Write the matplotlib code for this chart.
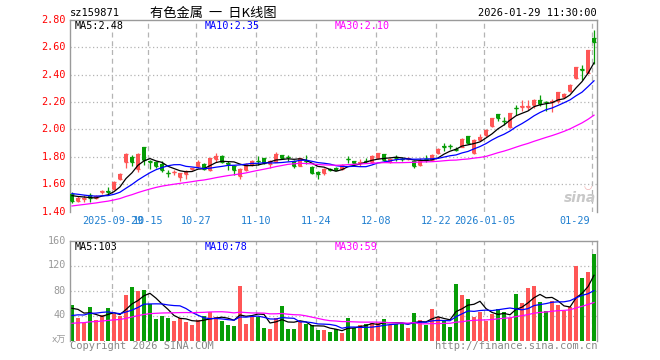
import matplotlib
matplotlib.use('Agg')
import matplotlib.pyplot as plt
import numpy as np
import pandas as pd

# ---------------- data ----------------
opens = [1.53, 1.48, 1.49, 1.52, 1.497, 1.545, 1.55, 1.565, 1.635, 1.76,
         1.80, 1.71, 1.875, 1.77, 1.76, 1.75, 1.68, 1.687, 1.65, 1.672,
         1.71, 1.733, 1.748, 1.70, 1.785, 1.808, 1.755, 1.735, 1.66, 1.705,
         1.74, 1.772, 1.79, 1.748, 1.765, 1.813, 1.797, 1.772, 1.733, 1.772,
         1.725, 1.69, 1.68, 1.71, 1.72, 1.708, 1.785, 1.77, 1.758, 1.772,
         1.764, 1.79, 1.82, 1.76, 1.795, 1.785, 1.787, 1.772, 1.74, 1.784,
         1.78, 1.825, 1.876, 1.882, 1.855, 1.874, 1.952, 1.83, 1.923, 1.96,
         2.025, 2.113, 2.062, 2.02, 2.158, 2.165, 2.165, 2.176, 2.217, 2.203,
         2.20, 2.205, 2.24, 2.278, 2.376, 2.44, 2.412, 2.665]
highs = [1.54, 1.51, 1.52, 1.535, 1.52, 1.56, 1.58, 1.62, 1.68, 1.825,
         1.81, 1.83, 1.875, 1.78, 1.77, 1.77, 1.70, 1.70, 1.685, 1.70,
         1.72, 1.775, 1.755, 1.79, 1.83, 1.81, 1.77, 1.74, 1.715, 1.755,
         1.775, 1.805, 1.79, 1.775, 1.838, 1.815, 1.81, 1.775, 1.79, 1.81,
         1.73, 1.695, 1.715, 1.72, 1.725, 1.745, 1.808, 1.77, 1.784, 1.79,
         1.81, 1.83, 1.82, 1.79, 1.813, 1.80, 1.796, 1.775, 1.79, 1.813,
         1.82, 1.862, 1.898, 1.894, 1.87, 1.935, 1.955, 1.93, 1.97, 2.00,
         2.085, 2.115, 2.093, 2.12, 2.176, 2.217, 2.217, 2.22, 2.254, 2.21,
         2.225, 2.275, 2.265, 2.33, 2.46, 2.473, 2.58, 2.73]
lows = [1.46, 1.47, 1.47, 1.47, 1.49, 1.53, 1.53, 1.555, 1.63, 1.72,
        1.73, 1.69, 1.74, 1.71, 1.72, 1.69, 1.655, 1.67, 1.625, 1.635,
        1.70, 1.72, 1.70, 1.695, 1.765, 1.755, 1.70, 1.67, 1.64, 1.695,
        1.73, 1.74, 1.745, 1.715, 1.76, 1.785, 1.77, 1.715, 1.73, 1.75,
        1.672, 1.635, 1.665, 1.695, 1.70, 1.70, 1.752, 1.733, 1.733, 1.752,
        1.755, 1.785, 1.77, 1.755, 1.772, 1.77, 1.775, 1.715, 1.735, 1.765,
        1.77, 1.82, 1.845, 1.855, 1.84, 1.87, 1.89, 1.82, 1.918, 1.945,
        2.02, 2.06, 2.03, 2.01, 2.108, 2.132, 2.145, 2.155, 2.168, 2.132,
        2.125, 2.19, 2.23, 2.27, 2.37, 2.365, 2.41, 2.48]
closes = [1.48, 1.50, 1.50, 1.50, 1.515, 1.55, 1.545, 1.615, 1.675, 1.82,
          1.76, 1.82, 1.775, 1.76, 1.735, 1.705, 1.678, 1.692, 1.68, 1.696,
          1.715, 1.765, 1.71, 1.79, 1.808, 1.765, 1.75, 1.70, 1.71, 1.75,
          1.77, 1.77, 1.752, 1.77, 1.82, 1.79, 1.795, 1.733, 1.789, 1.77,
          1.68, 1.675, 1.708, 1.705, 1.703, 1.74, 1.782, 1.752, 1.762, 1.77,
          1.806, 1.825, 1.776, 1.784, 1.793, 1.783, 1.79, 1.733, 1.772, 1.782,
          1.813, 1.857, 1.872, 1.880, 1.853, 1.93, 1.90, 1.92, 1.942, 1.996,
          2.08, 2.085, 2.06, 2.118, 2.156, 2.17, 2.17, 2.217, 2.186, 2.198,
          2.205, 2.273, 2.258, 2.327, 2.454, 2.435, 2.578, 2.64]
volumes = [56.8, 36.5, 28.5, 54.1, 32.8, 40.8, 52.5, 41.9, 39.7, 72.8,
           86.1, 79.2, 80.8, 58.4, 34.4, 39.2, 36.5, 31.7, 35.5, 30.1,
           24.8, 32.8, 39.7, 45.1, 37.1, 31.7, 24.8, 23.2, 87.7, 26.4,
           37.1, 37.1, 20.5, 18.9, 35.5, 55.2, 17.9, 18.9, 30.1, 26.4,
           24.3, 17.3, 17.3, 13.6, 17.9, 12.5, 36.5, 19.5, 24.8, 26.4,
           28.5, 28.5, 34.4, 24.8, 26.4, 26.4, 20.5, 44.5, 32.8, 24.8,
           50.4, 37.1, 31.2, 22.1, 90.4, 72.8, 66.4, 38.1, 46.1, 31.7,
           42.4, 50.4, 46.1, 35.5, 74.4, 60.5, 84.5, 87.2, 62.1, 47.2,
           63.7, 56.8, 47.2, 53.1, 119.7, 100.5, 110.1, 138.4]
# sessions before the visible window (only feed the moving averages)
prior_closes = [1.33, 1.34, 1.33, 1.35, 1.34, 1.36, 1.35, 1.37, 1.36, 1.37,
                1.36, 1.37, 1.38, 1.39, 1.42, 1.46, 1.49, 1.50, 1.51, 1.52,
                1.55, 1.56, 1.55, 1.54, 1.53, 1.53, 1.52, 1.52, 1.53]
prior_volumes = [15, 18, 14, 20, 17, 22, 16, 19, 21, 18, 17, 23, 20, 18.5,
                 24, 30, 26, 29, 27, 30.5, 26, 31, 27, 30, 28.5,
                 45, 58, 52, 45.7]
tick_index = [7, 13, 21, 31, 41, 51, 61, 69, 87]
tick_labels = ['2025-09-29', '10-15', '10-27', '11-10', '11-24', '12-08',
               '12-22', '2026-01-05', '01-29']
price_ticks = [1.40, 1.60, 1.80, 2.00, 2.20, 2.40, 2.60, 2.80]
vol_ticks = [40, 80, 120, 160]
ma_periods = [5, 10, 30]
price_ma_text = ['MA5:2.48', 'MA10:2.35', 'MA30:2.10']
vol_ma_text = ['MA5:103', 'MA10:78', 'MA30:59']
code = 'sz159871'
title = '有色金属  一  日K线图'
stamp = '2026-01-29 11:30:00'

# ---------------- styling ----------------
W, H = 660, 360
RED = '#ff5656'
GREEN = '#079d07'
MA_COLORS = ['#000000', '#0000ff', '#ff00ff']
GRID = '#b4b4b4'
FRAME = '#9a9a9a'
XLBL = '#1f7fd0'
MONO = 'DejaVu Sans Mono'

fig = plt.figure(figsize=(W / 100, H / 100), dpi=100)

def fx(px):
    return px / W

def fy(py):
    return 1 - py / H

L, R = 70, 597
ax = fig.add_axes([fx(L), fy(211.5), (R - L) / W, 191.5 / H])
axv = fig.add_axes([fx(L), fy(340.5), (R - L) / W, 100.0 / H])

n = len(closes)
x = np.arange(n)
o = np.array(opens); c = np.array(closes)
hi = np.array(highs); lo = np.array(lows)
up = c >= o
cols = [RED if u else GREEN for u in up]

all_c = pd.Series(prior_closes + closes)
all_v = pd.Series(prior_volumes + volumes)
npre = len(prior_closes)

for a in (ax, axv):
    a.set_xlim(-0.33, n - 0.5)
    for s in ('left', 'top', 'right'):
        a.spines[s].set_color(FRAME)
        a.spines[s].set_linewidth(1.0)
    a.spines['bottom'].set_visible(False)
    a.set_xticks([]); a.set_yticks([])
    for t in tick_index:
        a.axvline(t - 0.25, color=GRID, lw=0.9, ls=(0, (4, 3)), zorder=0)

ax.set_ylim(1.40, 2.80)
axv.set_ylim(0, 160)
for p in price_ticks[1:-1]:
    ax.axhline(p, color=GRID, lw=0.9, ls=(0, (1, 2)), zorder=0)
for v in vol_ticks[:-1]:
    axv.axhline(v, color=GRID, lw=0.9, ls=(0, (1, 2)), zorder=0)

# candles
ax.vlines(x, lo, hi, colors=cols, lw=0.9, zorder=2)
ax.bar(x, np.abs(c - o), bottom=np.minimum(o, c), width=0.82, color=cols,
       linewidth=0, zorder=3)
ax.hlines(c, x - 0.41, x + 0.41, colors=cols, lw=0.9, zorder=3)
ax.hlines(o, x - 0.41, x + 0.41, colors=cols, lw=0.9, zorder=3)

# volume bars
axv.bar(x, volumes, width=0.82, color=cols, linewidth=0, zorder=2)

# moving averages
for per, col in zip(ma_periods, MA_COLORS):
    mp = all_c.rolling(per).mean().values[npre:]
    ax.plot(x, mp, color=col, lw=0.9, zorder=4)
    mv = all_v.rolling(per).mean().values[npre:]
    axv.plot(x, mv, color=col, lw=0.9, zorder=4)

# y tick labels
for p in price_ticks:
    ax.text(-4 / (R - L), p, f'{p:.2f}', transform=ax.get_yaxis_transform(),
            ha='right', va='center', color='#ff0000', fontsize=7.3, family=MONO)
for v in vol_ticks:
    axv.text(-4 / (R - L), v, f'{v}', transform=axv.get_yaxis_transform(),
             ha='right', va='center', color='#999999', fontsize=7.3, family=MONO)
fig.text(fx(66), fy(340), 'x万', ha='right', va='center', color='#999999',
         fontsize=6.5, family=['DejaVu Sans', 'Noto Sans CJK SC'])

# x tick labels
for t, lab in zip(tick_index, tick_labels):
    if t == n - 1:
        ax.text(t - 0.6, -0.047, lab, transform=ax.get_xaxis_transform(),
                ha='right', va='center', color=XLBL, fontsize=7.3, family=MONO)
    elif t == tick_index[0]:
        ax.text(t - 0.25, -0.047, lab, transform=ax.get_xaxis_transform(),
                ha='center', va='center', color=XLBL, fontsize=7.3, family=MONO)
    else:
        ax.text(t - 0.25, -0.047, lab, transform=ax.get_xaxis_transform(),
                ha='center', va='center', color=XLBL, fontsize=7.3, family=MONO)

# header
fig.text(fx(70), fy(13), code, ha='left', va='center', fontsize=7.5,
         family=MONO, color='black')
fig.text(fx(150), fy(13), title, ha='left', va='center', fontsize=9.5,
         family=['Noto Sans CJK SC', 'DejaVu Sans'], color='black')
fig.text(fx(597), fy(13), stamp, ha='right', va='center', fontsize=7.5,
         family=MONO, color='black')

# MA legends
for xp, txt, col in zip([75, 205, 335], price_ma_text, MA_COLORS):
    fig.text(fx(xp), fy(26), txt, ha='left', va='center', fontsize=7.3,
             family=MONO, color=col)
for xp, txt, col in zip([75, 205, 335], vol_ma_text, MA_COLORS):
    fig.text(fx(xp), fy(246.5), txt, ha='left', va='center', fontsize=7.3,
             family=MONO, color=col)

# footer
fig.text(fx(70), fy(346), 'Copyright 2026 SINA.COM', ha='left', va='center',
         fontsize=7.5, family=MONO, color='#888888')
fig.text(fx(597), fy(346), 'http://finance.sina.com.cn', ha='right', va='center',
         fontsize=7.5, family=MONO, color='#888888')

# watermark
fig.text(fx(596), fy(198), 'sina', ha='right', va='center', fontsize=10,
         fontweight='bold', style='italic', family='DejaVu Sans', color='#c8c8c8')
fig.text(fx(588), fy(186), '\u25e1', ha='center', va='center', fontsize=7,
         family='DejaVu Sans', color='#f0b0b0')

fig.savefig('out.png', dpi=100)
